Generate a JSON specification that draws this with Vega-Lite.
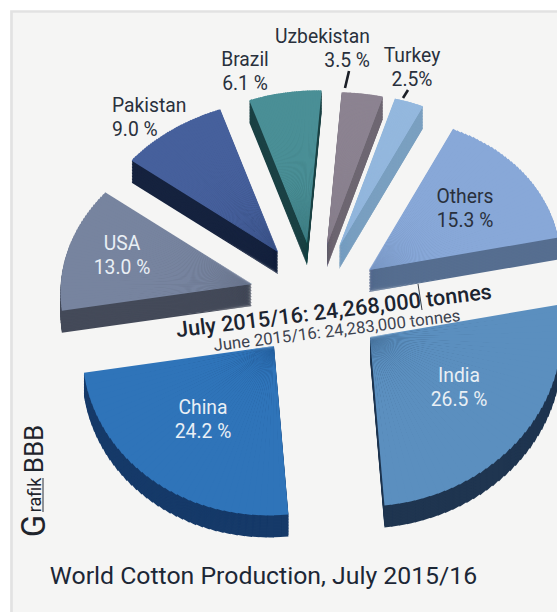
{
  "$schema": "https://vega.github.io/schema/vega-lite/v6.json",
  "width": 547.5,
  "height": 612,
  "autosize": "none",
  "padding": {"left": 11.5, "top": 11.5, "right": 0, "bottom": 0},
  "background": "#ffffff",
  "view": {"fill": "#f5f5f4", "stroke": "#e2e2e2", "strokeWidth": 2.7},
  "data": {"values": [
    {"country": "Brazil", "share": 6.1},
    {"country": "Uzbekistan", "share": 3.5},
    {"country": "Turkey", "share": 2.5},
    {"country": "Others", "share": 15.3},
    {"country": "India", "share": 26.5},
    {"country": "China", "share": 24.2},
    {"country": "USA", "share": 13.0},
    {"country": "Pakistan", "share": 9.0}
  ]},
  "transform": [
    {"window": [{"op": "sum", "field": "share", "as": "cum"}], "ignorePeers": true},
    {"calculate": "348 * PI / 180 + 2 * PI * datum.cum / 100.1", "as": "phiEnd"},
    {"calculate": "datum.phiEnd - 2 * PI * datum.share / 100.1", "as": "phiStart"},
    {"calculate": "{'Brazil':[307,243],'Uzbekistan':[327,245],'Turkey':[339,247],'Others':[369,270],'India':[370,337],'China':[274,346],'USA':[252,284],'Pakistan':[278,252]}[datum.country]", "as": "apex"},
    {"calculate": "[0,1,2,3,4,5,6,7,8,9,10,11,12,13,14,15,16,17,18,19,20,21,22,23,24,25,26,27,28,29,30,31,32,33,34,35,36,37,38,39]", "as": "step"},
    {"flatten": ["step"]},
    {"calculate": "[22,20.5,19,17.5,16,14.5,13,11.5,10,8.5,7,5.5,4,2.5,1,0]", "as": "depth"},
    {"flatten": ["depth"]},
    {"calculate": "datum.phiStart + (datum.phiEnd - datum.phiStart) * datum.step / 40", "as": "p1"},
    {"calculate": "datum.phiStart + (datum.phiEnd - datum.phiStart) * (datum.step + 1) / 40", "as": "p2"},
    {"calculate": "(datum.p1 + datum.p2) / 2", "as": "pm"},
    {"calculate": "-7 * PI / 180 + atan2(192 * sin(datum.p1), (cos(datum.p1) >= 0 ? 152 : 169) * cos(datum.p1))", "as": "t1"},
    {"calculate": "-7 * PI / 180 + atan2(192 * sin(datum.p2), (cos(datum.p2) >= 0 ? 152 : 169) * cos(datum.p2))", "as": "t2raw"},
    {"calculate": "(datum.t2raw < datum.t1 ? datum.t2raw + 2 * PI : datum.t2raw) + (datum.step < 39 ? 0.006 : 0)", "as": "t2"},
    {"calculate": "sqrt(pow(192 * sin(datum.pm), 2) + pow((cos(datum.pm) >= 0 ? 152 : 169) * cos(datum.pm), 2))", "as": "r"},
    {"calculate": "datum.apex[0]", "as": "px"},
    {"calculate": "datum.apex[1] + datum.depth", "as": "py"},
    {"calculate": "{'Brazil':[245,60],'Uzbekistan':[370,37],'Turkey':[412,56],'Others':[465,197],'India':[459,376],'China':[203,408],'USA':[122,244],'Pakistan':[112,106]}[datum.country]", "as": "spot"},
    {"calculate": "datum.country + '\\n' + format(datum.share, '.1f') + (datum.country === 'Turkey' ? '%' : ' %')", "as": "caption"},
    {"calculate": "indexof(['India','China','USA'], datum.country) >= 0 ? '#e9eff5' : '#29303c'", "as": "tone"}
  ],
  "encoding": {
    "x": {"field": "px", "type": "quantitative", "axis": null, "scale": {"domain": [11.5, 559], "range": [0, 547.5]}},
    "y": {"field": "py", "type": "quantitative", "axis": null, "scale": {"domain": [11.5, 623.5], "range": [0, 612]}}
  },
  "layer": [
    {
      "transform": [{"filter": "datum.depth > 0"}],
      "mark": {"type": "arc"},
      "encoding": {
        "theta": {"field": "t1", "type": "quantitative", "scale": null, "stack": null},
        "theta2": {"field": "t2"},
        "radius": {"field": "r", "type": "quantitative", "scale": null},
        "color": {"field": "country", "type": "nominal", "legend": null, "scale": {
          "domain": ["Brazil", "Uzbekistan", "Turkey", "Others", "India", "China", "USA", "Pakistan"],
          "range": ["#1c4245", "#6f6873", "#7ba0c0", "#566e90", "#1f3550", "#163a69", "#444a59", "#16233f"]
        }}
      }
    },
    {
      "transform": [{"filter": "datum.depth === 0"}],
      "mark": {"type": "arc"},
      "encoding": {
        "theta": {"field": "t1", "type": "quantitative", "scale": null, "stack": null},
        "theta2": {"field": "t2"},
        "radius": {"field": "r", "type": "quantitative", "scale": null},
        "fill": {"field": "country", "type": "nominal", "legend": null, "scale": {
          "domain": ["Brazil", "Uzbekistan", "Turkey", "Others", "India", "China", "USA", "Pakistan"],
          "range": ["#4a8f96", "#8c8391", "#94b8de", "#88a8d8", "#5b8fbf", "#2f74b9", "#77849f", "#46609c"]
        }}
      }
    },
    {
      "transform": [
        {"filter": "datum.depth === 0 && datum.step === 0 && datum.country !== 'Pakistan' && datum.country !== 'Uzbekistan'"},
        {"calculate": "datum.spot[0]", "as": "px"},
        {"calculate": "datum.spot[1]", "as": "py"}
      ],
      "mark": {"type": "text", "font": "Roboto", "fontSize": 19.3, "lineBreak": "\n", "lineHeight": 24, "align": "center", "baseline": "middle"},
      "encoding": {
        "text": {"field": "caption"},
        "color": {"field": "tone", "type": "nominal", "scale": null}
      }
    },
    {
      "transform": [
        {"filter": "datum.depth === 0 && datum.step === 0 && datum.country === 'Pakistan'"},
        {"calculate": "datum.spot[0]", "as": "px"},
        {"calculate": "datum.spot[1]", "as": "py"}
      ],
      "mark": {"type": "text", "font": "Roboto", "fontSize": 19.3, "lineBreak": "\n", "lineHeight": 24, "align": "left", "baseline": "middle"},
      "encoding": {
        "text": {"field": "caption"},
        "color": {"field": "tone", "type": "nominal", "scale": null}
      }
    },
    {
      "transform": [
        {"filter": "datum.depth === 0 && datum.step === 0 && datum.country === 'Uzbekistan'"},
        {"calculate": "datum.spot[0]", "as": "px"},
        {"calculate": "datum.spot[1]", "as": "py"}
      ],
      "mark": {"type": "text", "font": "Roboto", "fontSize": 19.3, "lineBreak": "\n", "lineHeight": 24, "align": "right", "baseline": "middle"},
      "encoding": {
        "text": {"field": "caption"},
        "color": {"field": "tone", "type": "nominal", "scale": null}
      }
    },
    {
      "data": {"values": [
        {"id": "uzbekistan"},
        {"id": "turkey"},
        {"id": "caret"},
        {"id": "underline"}
      ]},
      "transform": [
        {"calculate": "{'uzbekistan':[349,71,345,88,2.6,'#1b1f27'],'turkey':[408,90,403,98,2.6,'#1b1f27'],'caret':[418,284,422,310,1,'#3a3f48'],'underline':[43,478,43,512,1,'#2a2f38']}[datum.id]", "as": "seg"},
        {"calculate": "datum.seg[0]", "as": "px"},
        {"calculate": "datum.seg[1]", "as": "py"},
        {"calculate": "datum.seg[2]", "as": "px2"},
        {"calculate": "datum.seg[3]", "as": "py2"},
        {"calculate": "datum.seg[4]", "as": "w"},
        {"calculate": "datum.seg[5]", "as": "ink"}
      ],
      "mark": {"type": "rule"},
      "encoding": {
        "x2": {"field": "px2"},
        "y2": {"field": "py2"},
        "strokeWidth": {"field": "w", "type": "quantitative", "scale": null},
        "color": {"field": "ink", "type": "nominal", "scale": null}
      }
    },
    {
      "data": {"values": [
        {"id": "july", "text": "July 2015/16: 24,268,000 tonnes"}
      ]},
      "transform": [
        {"calculate": "334", "as": "px"},
        {"calculate": "312", "as": "py"}
      ],
      "mark": {"type": "text", "font": "Roboto", "fontSize": 21.6, "fontWeight": 500, "angle": 353, "align": "center", "baseline": "middle", "color": "#1c2430"},
      "encoding": {"text": {"field": "text"}}
    },
    {
      "data": {"values": [
        {"id": "title", "text": "World Cotton Production, July 2015/16"},
        {"id": "june", "text": "June 2015/16: 24,283,000 tonnes"},
        {"id": "g", "text": "G"},
        {"id": "rafik", "text": "rafik"},
        {"id": "bbb", "text": "BBB"}
      ]},
      "transform": [
        {"calculate": "{'title':[263.5,577,24.8,0,'#1c2736'],'june':[337,331,16.7,353,'#3d4350'],'g':[35,526,33,270,'#1f242c'],'rafik':[36,495,18,270,'#1f242c'],'bbb':[35,449,26,270,'#1f242c']}[datum.id]", "as": "s"},
        {"calculate": "datum.s[0]", "as": "px"},
        {"calculate": "datum.s[1]", "as": "py"},
        {"calculate": "datum.s[2]", "as": "fs"},
        {"calculate": "datum.s[3]", "as": "rot"},
        {"calculate": "datum.s[4]", "as": "ink"}
      ],
      "mark": {"type": "text", "font": "Roboto", "align": "center", "baseline": "middle"},
      "encoding": {
        "text": {"field": "text"},
        "size": {"field": "fs", "type": "quantitative", "scale": null},
        "angle": {"field": "rot", "type": "quantitative", "scale": null},
        "color": {"field": "ink", "type": "nominal", "scale": null}
      }
    }
  ]
}
